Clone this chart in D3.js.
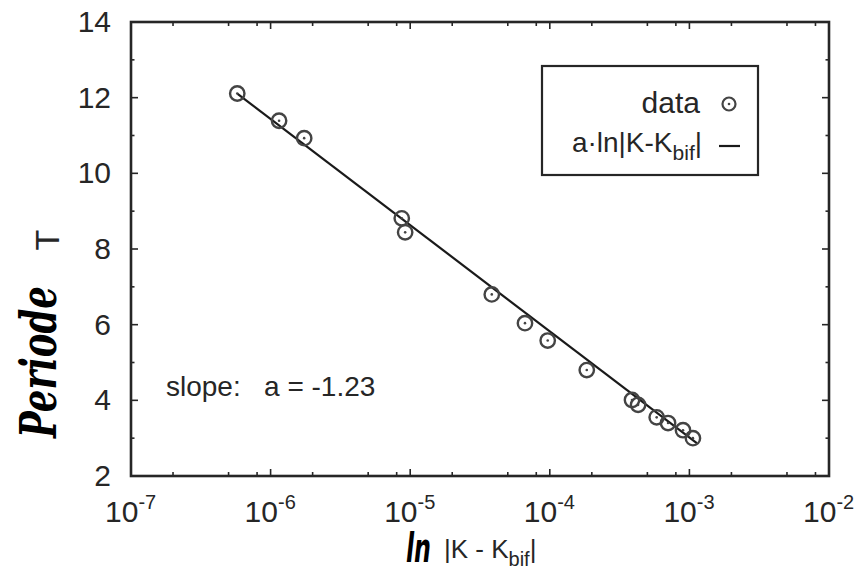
<!DOCTYPE html>
<html>
<head>
<meta charset="utf-8">
<script src="https://cdn.jsdelivr.net/npm/d3@7"></script>
<style>
  html, body { margin: 0; padding: 0; background: #fff; }
  svg { display: block; font-family: "Liberation Sans", Arial, sans-serif; }
</style>
</head>
<body>
<div class="chart"></div>
<script>
'use strict';

// data
const kDiff = [5.77e-7, 1.15e-6, 1.74e-6, 8.7e-6, 9.2e-6, 3.84e-5, 6.64e-5, 9.66e-5,
               1.84e-4, 3.88e-4, 4.29e-4, 5.83e-4, 7.03e-4, 9.0e-4, 1.06e-3];
const period = [12.11, 11.39, 10.93, 8.81, 8.44, 6.80, 6.04, 5.58,
                4.80, 4.01, 3.88, 3.55, 3.40, 3.21, 3.00];

// fitted line a*ln|K-Kbif| (end points)
const fitK = [5.8e-7, 1.13e-3];
const fitT = [12.1, 2.87];

// ticks
const xMajor = [-7, -6, -5, -4, -3, -2];   // exponents
const xMinorMult = [2, 5, 8];
const yMajor = [2, 4, 6, 8, 10, 12, 14];
const yMinor = [3, 5, 7, 9, 11, 13];

const legendItems = ["data", "fit"];

document.addEventListener('DOMContentLoaded', () => {
  const W = 858, H = 576;
  const frame = {left: 131, right: 829, top: 22, bottom: 476};
  const ink = "#262626";

  const svg = d3.select(".chart").append("svg")
    .attr("width", W).attr("height", H);
  svg.append("rect").attr("width", W).attr("height", H).attr("fill", "#fff");

  const x = d3.scaleLog().domain([1e-7, 1e-2]).range([frame.left, frame.right]);
  const y = d3.scaleLinear().domain([2, 14]).range([frame.bottom, frame.top]);

  const xMinor = [];
  xMajor.slice(0, -1).forEach(e => xMinorMult.forEach(m => xMinor.push(m * Math.pow(10, e))));
  const xMajorVals = xMajor.map(e => Math.pow(10, e));

  // ticks on all four sides, pointing inward
  const tickG = svg.append("g").attr("stroke", ink).attr("stroke-width", 1.6);
  const addX = (vals, len) => {
    vals.forEach(v => {
      tickG.append("line").attr("x1", x(v)).attr("x2", x(v))
        .attr("y1", frame.bottom).attr("y2", frame.bottom - len);
      tickG.append("line").attr("x1", x(v)).attr("x2", x(v))
        .attr("y1", frame.top).attr("y2", frame.top + len);
    });
  };
  const addY = (vals, len) => {
    vals.forEach(v => {
      tickG.append("line").attr("y1", y(v)).attr("y2", y(v))
        .attr("x1", frame.left).attr("x2", frame.left + len);
      tickG.append("line").attr("y1", y(v)).attr("y2", y(v))
        .attr("x1", frame.right).attr("x2", frame.right - len);
    });
  };
  addX(xMajorVals, 7);
  addX(xMinor, 4);
  addY(yMajor, 7);
  addY(yMinor, 3.5);

  // frame
  svg.append("rect")
    .attr("x", frame.left).attr("y", frame.top)
    .attr("width", frame.right - frame.left).attr("height", frame.bottom - frame.top)
    .attr("fill", "none").attr("stroke", ink).attr("stroke-width", 2.6);

  // y tick labels
  svg.append("g").selectAll("text")
    .data(yMajor).enter().append("text")
    .attr("x", 111)
    .attr("y", d => y(d) + 10)
    .attr("text-anchor", "end")
    .attr("font-size", 30)
    .attr("fill", ink)
    .text(d => d);

  // x tick labels: 10^e
  const xl = svg.append("g").selectAll("text")
    .data(xMajor).enter().append("text")
    .attr("x", d => x(Math.pow(10, d)) - 26)
    .attr("y", 522)
    .attr("font-size", 30)
    .attr("fill", ink);
  xl.append("tspan").text("10");
  xl.append("tspan").attr("dy", -13).attr("font-size", 20).text(d => d);

  // fitted line
  const line = d3.line().x(d => x(d[0])).y(d => y(d[1]));
  svg.append("path")
    .datum(fitK.map((k, i) => [k, fitT[i]]))
    .attr("d", line)
    .attr("fill", "none")
    .attr("stroke", "#1a1a1a")
    .attr("stroke-width", 2.2);

  // data points
  const pts = svg.append("g").selectAll("g")
    .data(kDiff.map((k, i) => [k, period[i]]))
    .enter().append("g")
    .attr("transform", d => `translate(${x(d[0])},${y(d[1])})`);
  pts.append("circle").attr("r", 7.2)
    .attr("fill", "none").attr("stroke", "#444").attr("stroke-width", 2.4);
  pts.append("circle").attr("r", 1.3).attr("fill", "#444");

  // legend
  const lg = svg.append("g");
  lg.append("rect")
    .attr("x", 542).attr("y", 66).attr("width", 216).attr("height", 109)
    .attr("fill", "#fff").attr("stroke", ink).attr("stroke-width", 2.2);
  lg.append("text").attr("x", 700).attr("y", 113)
    .attr("text-anchor", "end").attr("font-size", 30).attr("fill", ink)
    .text(legendItems[0]);
  lg.append("circle").attr("cx", 729).attr("cy", 104).attr("r", 6.5)
    .attr("fill", "none").attr("stroke", "#444").attr("stroke-width", 2.2);
  lg.append("circle").attr("cx", 729).attr("cy", 104).attr("r", 1.3).attr("fill", "#444");
  const l2 = lg.append("text").attr("x", 702).attr("y", 152)
    .attr("text-anchor", "end").attr("font-size", 28).attr("fill", ink);
  l2.append("tspan").text("a·ln|K-K");
  l2.append("tspan").attr("dy", 8).attr("font-size", 21).text("bif");
  l2.append("tspan").attr("dy", -8).text("|");
  lg.append("line").attr("x1", 719).attr("x2", 740).attr("y1", 146).attr("y2", 146)
    .attr("stroke", "#1a1a1a").attr("stroke-width", 2.2);

  // slope annotation
  svg.append("text").attr("x", 166).attr("y", 396)
    .attr("font-size", 28).attr("fill", ink)
    .attr("xml:space", "preserve")
    .text("slope:   a = -1.23");

  // x axis label: handwritten "ln" + |K - Kbif|, one text element
  const xt = svg.append("text").attr("x", 406).attr("y", 562)
    .attr("font-size", 26).attr("fill", ink);
  xt.append("tspan")
    .attr("font-size", 40).attr("font-weight", "bold").attr("font-style", "italic")
    .attr("font-family", "'DejaVu Sans Condensed', 'DejaVu Sans', sans-serif")
    .attr("fill", "#000")
    .attr("textLength", 25).attr("lengthAdjust", "spacingAndGlyphs")
    .text("ln");
  xt.append("tspan").attr("x", 444).attr("dy", -4).text("|K - K");
  xt.append("tspan").attr("dy", 8).attr("font-size", 20).text("bif");
  xt.append("tspan").attr("dy", -8).text("|");

  // y axis label: "T" and handwritten "Periode"
  svg.append("text")
    .attr("transform", "translate(59,240) rotate(-90)")
    .attr("text-anchor", "middle").attr("font-size", 34).attr("fill", ink)
    .text("T");
  svg.append("text")
    .attr("transform", "translate(56,362) rotate(-90)")
    .attr("text-anchor", "middle")
    .attr("font-size", 50).attr("font-weight", "bold").attr("font-style", "italic")
    .attr("font-family", "'DejaVu Serif', serif")
    .attr("textLength", 152).attr("lengthAdjust", "spacingAndGlyphs")
    .attr("fill", "#000")
    .text("Periode");
});
</script>
</body>
</html>
